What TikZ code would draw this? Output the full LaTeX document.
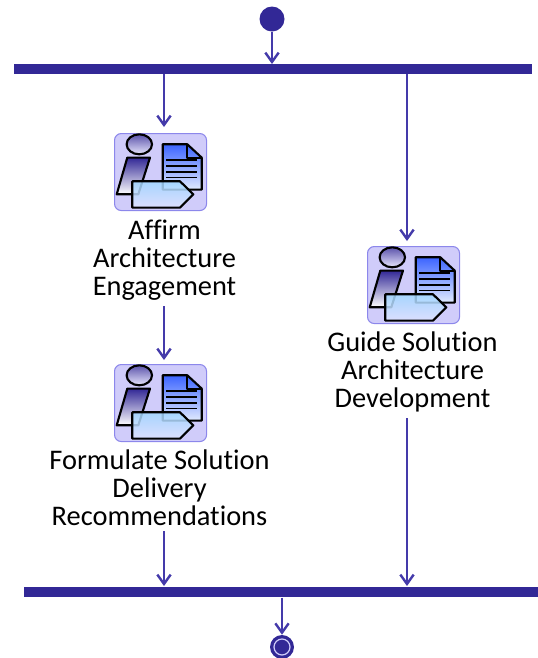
\documentclass[tikz,border=0pt]{standalone}
\usepackage{fontspec}
\setmainfont[Ligatures=NoCommon]{Carlito}
\usetikzlibrary{arrows.meta}
\definecolor{flow}{RGB}{68,58,170}
\definecolor{barc}{RGB}{50,40,150}
\definecolor{iconfill}{RGB}{208,204,250}
\definecolor{iconedge}{RGB}{140,135,235}
\definecolor{docblue}{RGB}{60,100,255}
\definecolor{docpale}{RGB}{225,235,255}
\definecolor{tagtop}{RGB}{160,215,255}
\definecolor{tagbot}{RGB}{222,226,255}
\tikzset{
  x=0.75pt,y=-0.75pt,
  conn/.style={draw=flow,line width=1.8pt,-{Straight Barb[length=7pt,width=10pt,line width=1.8pt]}},
  barnode/.style={fill=barc,draw=none,inner sep=0pt,minimum height=7.5pt},
  iconbox/.style={draw=iconedge,fill=iconfill,line width=0.8pt,rounded corners=5pt,minimum width=69pt,minimum height=57.75pt,inner sep=0pt},
  lab/.style={align=center,font=\fontsize{21.3}{21}\selectfont,text=black,inner sep=0pt},
  ink/.style={draw=black,line width=1.6pt,line join=round},
}
\newcommand{\activity}[3]{%
  \node[iconbox,anchor=north west] (#1) at (#2,#3) {};
  \begin{scope}[shift={(#2,#3)}]
    \draw[ink,top color=docblue,bottom color=docpale] (48.7,11.3) -- (73.3,11.3) -- (87.7,24.6) -- (87.7,56.6) -- (48.7,56.6) -- cycle;
    \draw[ink] (73.3,11.3) -- (73.3,24.6) -- (87.7,24.6);
    \foreach \yy in {27.3,33.3,39,44.6} \draw[black,line width=1.3pt] (52,\yy) -- (83.3,\yy);
    \draw[ink,top color=barc,bottom color=white] (13.3,24.6) -- (36,24.6) -- (24.3,61.3) -- (2.7,61.3) -- cycle;
    \draw[ink,top color=barc!80,bottom color=iconfill!50] (25.3,11.3) ellipse [x radius=12.7,y radius=10];
    \draw[ink,top color=tagtop,bottom color=tagbot,fill opacity=0.85] (18.3,48.3) -- (66,48.3) -- (79.3,61.3) -- (66,74.6) -- (18.3,74.6) -- cycle;
  \end{scope}}
\begin{document}
\begin{tikzpicture}
\useasboundingbox (0,0) rectangle (538,658);
% bars
\node[barnode,minimum width=388pt,anchor=north west] (topbar) at (14,64) {};
\node[barnode,minimum width=385.5pt,anchor=north west] (botbar) at (24,587) {};
% start / end
\node[circle,fill=barc,minimum size=18.75pt,inner sep=0pt] (start) at (272,19) {};
\node[circle,fill=barc,minimum size=18pt,inner sep=0pt] (finish) at (282,647) {};
\node[circle,draw=iconfill,line width=0.9pt,fill=barc,minimum size=12pt,inner sep=0pt] (finishin) at (282,647) {};
% activities
\activity{a}{114}{133}
\activity{b}{114}{364}
\activity{c}{367}{246}
\node[lab] (atext) at (164.5,260) {Affirm\\Architecture\\Engagement};
\node[lab] (btext) at (159.5,488) {Formulate Solution\\Delivery\\Recommendations};
\node[lab] (ctext) at (412.5,372) {Guide Solution\\Architecture\\Development};
% connectors
\coordinate (sa) at (164,74); \coordinate (ea) at (164,127);
\coordinate (sb) at (164,306); \coordinate (eb) at (164,360);
\coordinate (sd) at (164,531); \coordinate (ed) at (164,586);
\coordinate (sc) at (407,74); \coordinate (ec) at (407,241);
\coordinate (se) at (407,418); \coordinate (ee) at (407,586);
\draw[conn] (start) -- (start |- topbar.north);
\draw[conn] (sa) -- (ea);
\draw[conn] (sb) -- (eb);
\draw[conn] (sd) -- (ed);
\draw[conn] (sc) -- (ec);
\draw[conn] (se) -- (ee);
\draw[conn] (finish |- botbar.south) -- (finish.north);
\end{tikzpicture}
\end{document}
